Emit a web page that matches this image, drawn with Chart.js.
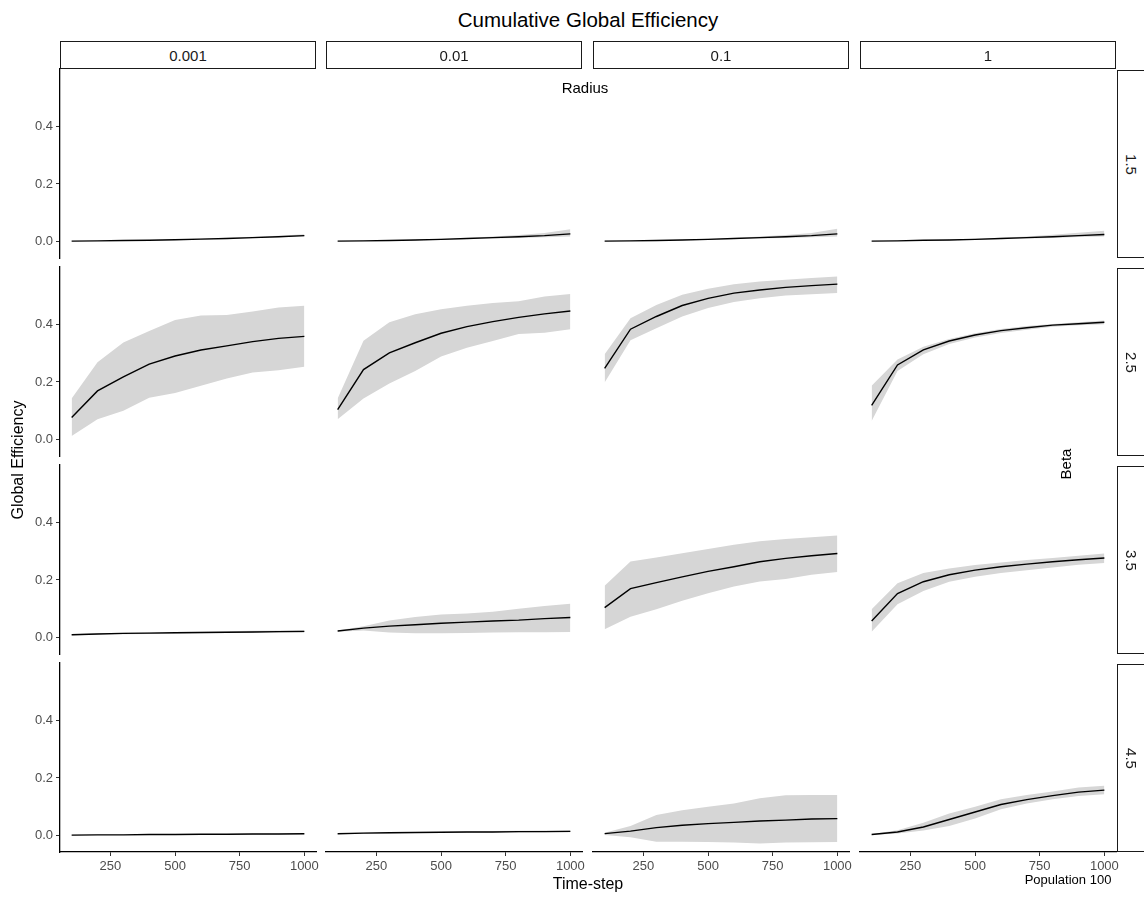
<!DOCTYPE html>
<html>
<head>
<meta charset="utf-8">
<script src="https://cdn.jsdelivr.net/npm/chart.js@4.4.0/dist/chart.umd.min.js"></script>
<style>
  body { margin: 0; background: #fff; font-family: "Liberation Sans", Arial, sans-serif; }
  #fig { position: relative; width: 1144px; height: 920px; overflow: hidden; }
  #fig canvas { position: absolute; }
  .strip { position: absolute; box-sizing: border-box; border: 1.5px solid #1a1a1a; background: #fff;
           color: #1a1a1a; font-size: 15px; display: flex; align-items: center; justify-content: center; }
  .strip.row span { transform: rotate(90deg); display: inline-block; }
  .lbl { position: absolute; white-space: nowrap; color: #000; text-align: center; }
</style>
</head>
<body>
<div id="fig"></div>
<script>
// facets
const radiusLevels = ['0.001', '0.01', '0.1', '1'];
const betaLevels = ['1.5', '2.5', '3.5', '4.5'];
const timeSteps = [100, 200, 300, 400, 500, 600, 700, 800, 900, 1000];
const xTicks = [250, 500, 750, 1000];
const yTicks = [0, 0.2, 0.4];

// one entry per radius (0.001, 0.01, 0.1, 1)
const meanBeta15 = [
  [0.002, 0.003, 0.004, 0.005, 0.007, 0.009, 0.011, 0.014, 0.017, 0.021],
  [0.002, 0.003, 0.004, 0.006, 0.008, 0.011, 0.014, 0.017, 0.021, 0.027],
  [0.002, 0.003, 0.004, 0.006, 0.008, 0.011, 0.014, 0.017, 0.021, 0.027],
  [0.002, 0.003, 0.005, 0.006, 0.008, 0.011, 0.014, 0.017, 0.021, 0.025]
];
const lowBeta15 = [
  [0.002, 0.003, 0.004, 0.005, 0.006, 0.008, 0.010, 0.012, 0.015, 0.018],
  [0.002, 0.003, 0.004, 0.005, 0.007, 0.009, 0.011, 0.013, 0.015, 0.018],
  [0.002, 0.003, 0.004, 0.005, 0.007, 0.009, 0.011, 0.013, 0.015, 0.018],
  [0.002, 0.003, 0.004, 0.005, 0.007, 0.009, 0.011, 0.013, 0.016, 0.018]
];
const highBeta15 = [
  [0.002, 0.003, 0.005, 0.006, 0.008, 0.011, 0.014, 0.017, 0.021, 0.026],
  [0.003, 0.004, 0.005, 0.007, 0.010, 0.013, 0.018, 0.023, 0.030, 0.043],
  [0.003, 0.004, 0.005, 0.007, 0.010, 0.013, 0.018, 0.023, 0.030, 0.045],
  [0.003, 0.004, 0.005, 0.007, 0.010, 0.014, 0.018, 0.024, 0.031, 0.038]
];

const meanBeta25 = [
  [0.077, 0.169, 0.218, 0.262, 0.290, 0.311, 0.325, 0.340, 0.351, 0.358],
  [0.104, 0.243, 0.301, 0.336, 0.369, 0.392, 0.409, 0.424, 0.436, 0.446],
  [0.247, 0.383, 0.427, 0.465, 0.490, 0.508, 0.519, 0.528, 0.534, 0.539],
  [0.119, 0.259, 0.311, 0.342, 0.363, 0.378, 0.388, 0.397, 0.402, 0.407]
];
const lowBeta25 = [
  [0.013, 0.071, 0.100, 0.145, 0.162, 0.187, 0.212, 0.233, 0.241, 0.253],
  [0.071, 0.143, 0.195, 0.238, 0.288, 0.319, 0.342, 0.366, 0.371, 0.383],
  [0.198, 0.345, 0.386, 0.427, 0.456, 0.477, 0.490, 0.500, 0.504, 0.508],
  [0.065, 0.238, 0.296, 0.332, 0.354, 0.370, 0.381, 0.391, 0.397, 0.400]
];
const highBeta25 = [
  [0.143, 0.268, 0.337, 0.377, 0.415, 0.430, 0.432, 0.444, 0.458, 0.464],
  [0.143, 0.343, 0.407, 0.435, 0.452, 0.464, 0.474, 0.480, 0.496, 0.505],
  [0.296, 0.421, 0.467, 0.502, 0.523, 0.539, 0.548, 0.554, 0.560, 0.566],
  [0.187, 0.278, 0.322, 0.349, 0.369, 0.384, 0.394, 0.401, 0.407, 0.413]
];

const meanBeta35 = [
  [0.010, 0.013, 0.015, 0.016, 0.017, 0.018, 0.019, 0.020, 0.021, 0.022],
  [0.023, 0.033, 0.040, 0.045, 0.050, 0.054, 0.058, 0.061, 0.066, 0.070],
  [0.104, 0.170, 0.191, 0.211, 0.230, 0.246, 0.263, 0.275, 0.284, 0.292],
  [0.058, 0.153, 0.194, 0.218, 0.234, 0.246, 0.255, 0.263, 0.270, 0.276]
];
const lowBeta35 = [
  [0.008, 0.011, 0.012, 0.013, 0.014, 0.015, 0.016, 0.016, 0.017, 0.017],
  [0.021, 0.025, 0.018, 0.015, 0.015, 0.016, 0.018, 0.019, 0.019, 0.020],
  [0.029, 0.073, 0.099, 0.128, 0.154, 0.177, 0.195, 0.203, 0.218, 0.228],
  [0.021, 0.116, 0.162, 0.194, 0.211, 0.224, 0.234, 0.243, 0.253, 0.259]
];
const highBeta35 = [
  [0.012, 0.015, 0.017, 0.019, 0.020, 0.021, 0.022, 0.024, 0.025, 0.026],
  [0.025, 0.040, 0.060, 0.072, 0.080, 0.084, 0.090, 0.100, 0.110, 0.118],
  [0.180, 0.264, 0.278, 0.293, 0.307, 0.322, 0.334, 0.342, 0.348, 0.354],
  [0.099, 0.189, 0.224, 0.240, 0.252, 0.261, 0.269, 0.276, 0.284, 0.292]
];

const meanBeta45 = [
  [0.002, 0.003, 0.003, 0.004, 0.004, 0.005, 0.005, 0.006, 0.006, 0.007],
  [0.007, 0.009, 0.010, 0.011, 0.012, 0.013, 0.013, 0.014, 0.014, 0.015],
  [0.007, 0.016, 0.028, 0.036, 0.042, 0.046, 0.051, 0.054, 0.058, 0.059],
  [0.004, 0.013, 0.030, 0.056, 0.082, 0.108, 0.125, 0.139, 0.151, 0.158]
];
const lowBeta45 = [
  [0.001, 0.002, 0.002, 0.003, 0.003, 0.004, 0.004, 0.004, 0.005, 0.005],
  [0.006, 0.007, 0.008, 0.009, 0.010, 0.010, 0.011, 0.011, 0.012, 0.012],
  [0.002, -0.005, -0.021, -0.021, -0.022, -0.024, -0.027, -0.024, -0.023, -0.022],
  [0.002, 0.008, 0.018, 0.034, 0.060, 0.092, 0.112, 0.126, 0.138, 0.144]
];
const highBeta45 = [
  [0.003, 0.004, 0.004, 0.005, 0.005, 0.006, 0.006, 0.007, 0.008, 0.009],
  [0.008, 0.011, 0.012, 0.013, 0.014, 0.015, 0.016, 0.017, 0.018, 0.019],
  [0.010, 0.034, 0.072, 0.088, 0.100, 0.112, 0.130, 0.140, 0.141, 0.141],
  [0.006, 0.019, 0.045, 0.077, 0.100, 0.126, 0.141, 0.153, 0.167, 0.173]
];

const meanRows = [meanBeta15, meanBeta25, meanBeta35, meanBeta45];
const lowRows = [lowBeta15, lowBeta25, lowBeta35, lowBeta45];
const highRows = [highBeta15, highBeta25, highBeta35, highBeta45];

// panel geometry (px)
const colLeft = [60, 326, 593, 860];
const rowTop = [69, 267, 465, 663];
const PW = 256, PH = 189;
const PAD = 14, YAX = 45, XAX = 26;

const FONT = '"Liberation Sans", Arial, sans-serif';
Chart.defaults.font.family = FONT;

const fig = document.getElementById('fig');

function pts(ys) {
  return timeSteps.map((t, i) => ({ x: t, y: ys[i] }));
}

// fixed, even-sized box centred on (x, y) so rotated text stays crisp
function addLabel(text, x, y, size, rot, bw) {
  const bh = 24;
  const d = document.createElement('div');
  d.className = 'lbl';
  d.textContent = text;
  Object.assign(d.style, {
    left: (x - bw / 2) + 'px', top: (y - bh / 2) + 'px',
    width: bw + 'px', height: bh + 'px', lineHeight: bh + 'px', fontSize: size + 'px'
  });
  if (rot) d.style.transform = 'rotate(' + rot + 'deg)';
  fig.appendChild(d);
}

function makePanel(r, c) {
  const showY = c === 0, showX = r === 3;
  const cv = document.createElement('canvas');
  const w = PW + 2 * PAD + (showY ? YAX : 0);
  const h = PH + 2 * PAD + (showX ? XAX : 0);
  cv.width = w; cv.height = h;
  cv.style.width = w + 'px'; cv.style.height = h + 'px';
  cv.style.left = (colLeft[c] - PAD - (showY ? YAX : 0)) + 'px';
  cv.style.top = (rowTop[r] - PAD) + 'px';
  fig.appendChild(cv);

  const tickFont = { size: 13, family: FONT };
  new Chart(cv.getContext('2d'), {
    type: 'line',
    data: {
      datasets: [
        { data: pts(meanRows[r][c]), borderColor: '#000', borderWidth: 1.4, fill: false, pointRadius: 0 },
        { data: pts(lowRows[r][c]), borderWidth: 0, borderColor: 'rgba(0,0,0,0)', fill: false, pointRadius: 0 },
        { data: pts(highRows[r][c]), borderWidth: 0, borderColor: 'rgba(0,0,0,0)',
          backgroundColor: '#d6d6d6', fill: '-1', pointRadius: 0 }
      ]
    },
    options: {
      responsive: false,
      animation: false,
      devicePixelRatio: 1,
      layout: { padding: PAD },
      elements: { line: { tension: 0 } },
      plugins: {
        legend: { display: false },
        tooltip: { enabled: false },
        filler: { drawTime: 'beforeDatasetsDraw' }
      },
      scales: {
        x: {
          type: 'linear',
          min: 55, max: 1045,
          display: showX,
          afterBuildTicks: s => { s.ticks = xTicks.map(v => ({ value: v })); },
          afterFit: s => { s.height = showX ? XAX : 0; },
          border: { display: true, color: '#000', width: 1.3 },
          grid: { drawOnChartArea: false, tickLength: 4, color: '#333', lineWidth: 1 },
          ticks: { color: '#4d4d4d', font: tickFont, padding: 3, maxRotation: 0, autoSkip: false,
                   callback: v => String(v) }
        },
        y: {
          min: -0.0565, max: 0.5985,
          display: showY,
          afterBuildTicks: s => { s.ticks = yTicks.map(v => ({ value: v })); },
          afterFit: s => { s.width = showY ? YAX : 0; },
          border: { display: true, color: '#000', width: 1.3 },
          grid: { drawOnChartArea: false, tickLength: 4, color: '#333', lineWidth: 1 },
          ticks: { color: '#4d4d4d', font: tickFont, padding: 3, callback: v => v.toFixed(1) }
        }
      }
    }
  });
}

for (let r = 0; r < betaLevels.length; r++) {
  for (let c = 0; c < radiusLevels.length; c++) makePanel(r, c);
}

// strips
radiusLevels.forEach((lab, c) => {
  const s = document.createElement('div');
  s.className = 'strip';
  Object.assign(s.style, { left: colLeft[c] + 'px', top: '41px', width: PW + 'px', height: '28px' });
  s.textContent = lab;
  fig.appendChild(s);
});
betaLevels.forEach((lab, r) => {
  const s = document.createElement('div');
  s.className = 'strip row';
  Object.assign(s.style, { left: '1117px', top: (rowTop[r] + 1) + 'px', width: '28px', height: (PH - 1) + 'px' });
  const sp = document.createElement('span');
  sp.textContent = lab;
  s.appendChild(sp);
  fig.appendChild(s);
});

// titles
addLabel('Cumulative Global Efficiency', 588, 20, 20.5, 0, 400);
addLabel('Radius', 585, 88, 15, 0, 80);
addLabel('Beta', 1066, 464, 15, -90, 60);
addLabel('Global Efficiency', 18, 460, 16, -90, 200);
addLabel('Time-step', 588, 884, 16, 0, 120);
addLabel('Population 100', 1068, 880, 13, 0, 120);
</script>
</body>
</html>
